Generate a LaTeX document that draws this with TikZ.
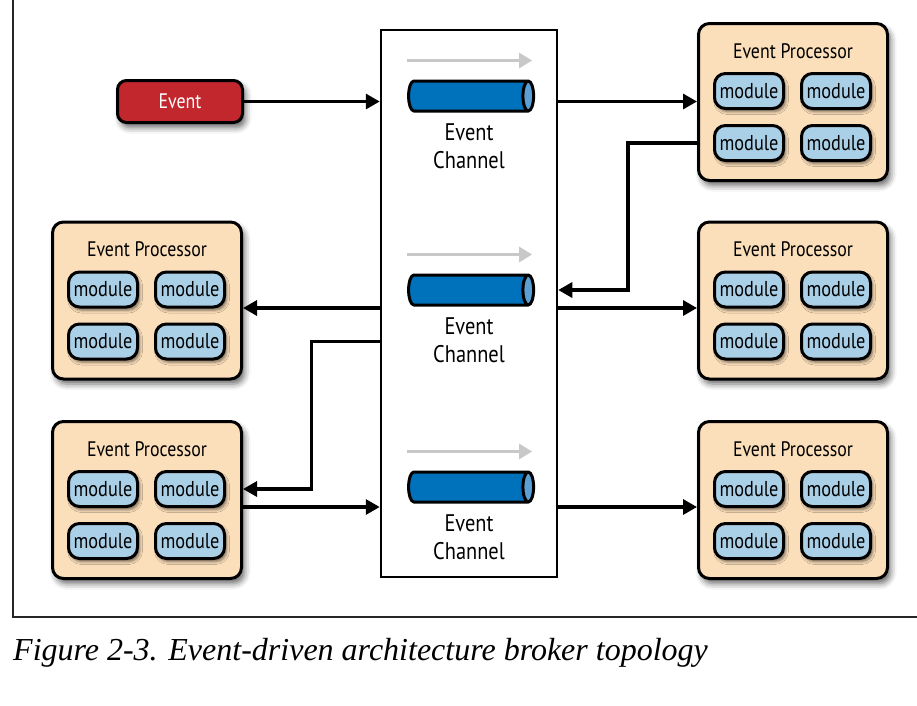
\documentclass[tikz,border=0pt]{standalone}
\usepackage{fontspec}
\setmainfont{Liberation Serif}
\setsansfont{PT Sans}[FakeStretch=0.85]
\usetikzlibrary{calc, arrows.meta, shapes.geometric, positioning, shadows.blur}

\definecolor{eventred}{RGB}{193,39,45}
\definecolor{procfill}{RGB}{251,222,186}
\definecolor{modfill}{RGB}{170,208,232}
\definecolor{pipeblue}{RGB}{0,114,188}
\definecolor{pipeend}{RGB}{90,160,210}
\definecolor{hintgray}{RGB}{200,200,200}

\begin{document}
\begin{tikzpicture}[x=1pt, y=-1pt, >={Triangle[length=14pt,width=15pt]}]
        \tikzset{
                basic/.style    = {draw, line width=3pt, rectangle, align=center},
                softshadow/.style = {blur shadow={shadow xshift=3pt, shadow yshift=-5pt,
                                shadow blur radius=6pt, shadow opacity=60}},
                event/.style    = {basic, rounded corners=9pt, fill=eventred, text=white,
                                minimum width=125pt, minimum height=42pt, softshadow,
                                font=\sffamily\fontsize{21}{23}\selectfont},
                proc/.style     = {basic, rounded corners=11pt, fill=procfill,
                                minimum width=189pt, minimum height=157pt, softshadow},
                title/.style    = {anchor=center, yshift=-29pt, font=\sffamily\fontsize{21}{23}\selectfont},
                module/.style   = {basic, rounded corners=11pt, fill=modfill, inner sep=0pt,
                                minimum width=69pt, minimum height=35pt,
                                blur shadow={shadow xshift=2pt, shadow yshift=-3pt,
                                shadow blur radius=3pt, shadow opacity=55},
                                font=\sffamily\fontsize{21.5}{23}\selectfont},
                chanbox/.style  = {draw, line width=2.5pt, fill=white,
                                minimum width=176pt, minimum height=547pt},
                pipe/.style     = {cylinder, draw, line width=3pt, cylinder uses custom fill,
                                cylinder body fill=pipeblue, cylinder end fill=pipeend,
                                minimum width=30pt, minimum height=125pt, shape aspect=1.6},
                chantext/.style = {align=center, font=\sffamily\fontsize{24}{28}\selectfont},
                hint/.style     = {draw=hintgray, line width=3pt, ->, >={Triangle[length=13pt,width=15pt]}},
                flow/.style     = {draw, line width=3.2pt, ->}
        }
        \useasboundingbox (0,0) rectangle (917,705);

        % outer frame of the figure
        \draw[line width=1.5pt, black!85] (13,0) -- (13,617) -- (917,617);

        % the event channels
        \node[chanbox] (chan) at (469,303.5) {};
        \foreach \n/\py in {1/96, 2/290, 3/487} {
                \node[pipe] (pipe\n) at (466,\py) {};
                \draw[hint] ([yshift=19pt]pipe\n.west |- pipe\n.north) -- ([yshift=19pt,xshift=-3pt]pipe\n.east |- pipe\n.north);
                \node[chantext, below=8pt of pipe\n.south -| chan] (txt\n) {Event\\Channel};
        }

        % initial event
        \node[event] (event) at (180,101.5) {Event};

        % event processors, each with four modules
        \foreach \name/\px/\py in {pr1/793/102, pr2/793/300.5, pr3/793/500,
                                  pl1/147/300.5, pl2/147/500} {
                \node[proc, label={[title]north:Event Processor}] (\name) at (\px,\py) {};
                \foreach \i/\dx/\dy in {1/-44/-11, 2/43/-11, 3/-44/41, 4/43/41} {
                        \node[module] (\name m\i) at ($(\name)+(\dx,\dy)$) {module};
                }
        }

        % connectors
        \coordinate (c2) at ($(pipe2)+(0,18)$);
        \coordinate (c3) at ($(pipe3)+(0,20)$);
        \draw[flow] (event) -- (event -| chan.west);
        \draw[flow] (chan.east |- event) -- (pr1.west |- event);
        \draw[flow] (pr1.west |- pr1m3) -- ++(-69,0) |- (chan.east |- pipe2);
        \draw[flow] (c2 -| chan.east) -- (c2 -| pr2.west);
        \draw[flow] (c2 -| chan.west) -- (c2 -| pl1.east);
        \draw[flow] (chan.west |- pl1m3) -- ++(-68,0) |- (pl2.east |- pl2m1);
        \draw[flow] (c3 -| pl2.east) -- (c3 -| chan.west);
        \draw[flow] (c3 -| chan.east) -- (c3 -| pr3.west);

        % caption
        \node[anchor=base west, inner sep=0pt, font=\itshape\fontsize{32}{37}\selectfont] (caption) at (13,660)
                {Figure 2-3. Event-driven architecture broker topology};
\end{tikzpicture}
\end{document}
